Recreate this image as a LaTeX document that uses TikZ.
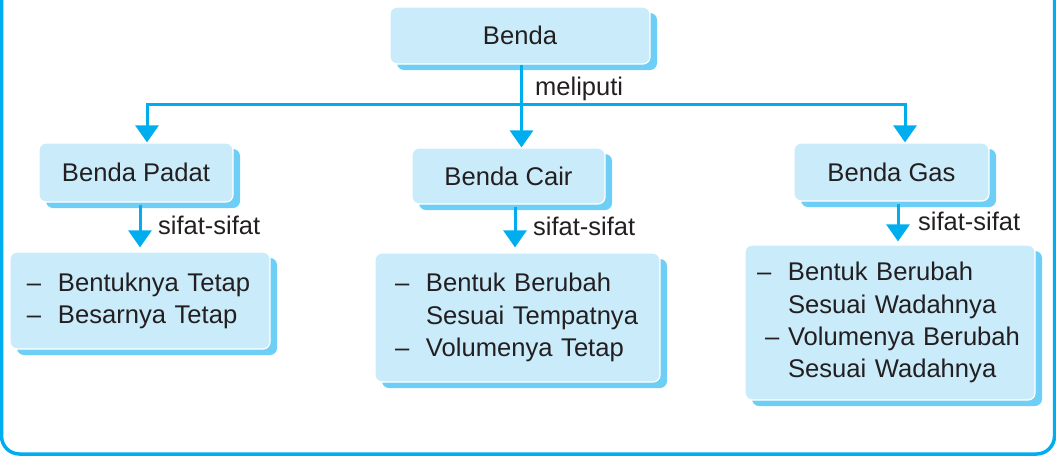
\documentclass[tikz,border=0pt]{standalone}
\usepackage{fontspec}
\setmainfont{Liberation Sans}
\usetikzlibrary{positioning,arrows.meta,shadows}

\definecolor{garis}{HTML}{00AEEF}
\definecolor{isi}{HTML}{C9EBFA}
\definecolor{bayang}{HTML}{6DCFF6}
\definecolor{teks}{HTML}{231F20}

\newcommand\butir[1]{\makebox[31pt][l]{--}#1}
\newcommand\lanjut[1]{\hspace*{31pt}#1}

\begin{document}
\begin{tikzpicture}[x=1pt,y=-1pt,
   every node/.style={text=teks},
   kotak/.style={rounded corners=7pt,fill=isi,draw=white,line width=1.2pt,
     drop shadow={shadow xshift=7pt,shadow yshift=-6pt,fill=bayang,opacity=1},
     font=\fontsize{25.6}{30}\selectfont},
   daftar/.style={kotak,align=left,font=\fontsize{25.6}{32.2}\selectfont},
   panah/.style={draw=garis,line width=3pt,-{Triangle[width=23pt,length=17pt]}},
   ket/.style={font=\fontsize{25.5}{28}\selectfont,anchor=base west,inner sep=0pt}]
  \useasboundingbox (0,0) rectangle (1056,456);
  % bingkai
  \draw[garis,line width=3.5pt,rounded corners=18pt]
    (1.5,-5) -- (1.5,454) -- (1054.5,454) -- (1054.5,-5);

  \node[kotak,minimum width=260pt,minimum height=57pt] (benda) at (520,35.5) {Benda};
  \node[kotak,minimum width=194pt,minimum height=59pt] (padat) at (136,172.5) {Benda Padat};
  \node[kotak,minimum width=193pt,minimum height=56pt] (cair) at (508.5,176) {Benda Cair};
  \node[kotak,minimum width=195pt,minimum height=58pt] (gas) at (891.5,172) {Benda Gas};

  \node[daftar,minimum width=260pt,minimum height=97pt,inner xsep=17pt,text width=226pt]
    (ciriPadat) at (140,300.5)
    {\butir{Bentuknya Tetap}\\ \butir{Besarnya Tetap}};
  \node[daftar,minimum width=285pt,minimum height=129pt,inner xsep=20pt,text width=245pt]
    (ciriCair) at (517.5,317.5)
    {\butir{Bentuk Berubah}\\ \lanjut{Sesuai Tempatnya}\\ \butir{Volumenya Tetap}};
  \node[daftar,minimum width=290pt,minimum height=155pt,inner xsep=12pt,text width=266pt]
    (ciriGas) at (890,322.5)
    {\butir{Bentuk Berubah}\\ \lanjut{Sesuai Wadahnya}\\
     \makebox[31pt][l]{\hspace{8pt}--}Volumenya Berubah\\ \lanjut{Sesuai Wadahnya}};

  % cabang
  \coordinate (cabang) at (521.5,104);
  \coordinate (kiri) at (147,104);
  \coordinate (kanan) at (905,104);
  \draw[garis,line width=3pt,line cap=rect] (kiri) -- (kanan);
  \draw[panah] (benda.south -| cabang) -- (cabang |- cair.north);
  \draw[panah] (kiri) -- (kiri |- padat.north);
  \draw[panah] (kanan) -- (kanan |- gas.north);
  \node[ket] (meliputi) at (535,95) {meliputi};

  % sifat-sifat
  \draw[panah,shorten <=2pt,shorten >=4pt] ([xshift=4pt]padat.south) -- ([xshift=4pt]padat.south |- ciriPadat.north);
  \draw[panah,shorten <=2pt,shorten >=5pt] ([xshift=6.5pt]cair.south) -- ([xshift=6.5pt]cair.south |- ciriCair.north);
  \draw[panah,shorten <=2pt,shorten >=3pt] ([xshift=6.5pt]gas.south) -- ([xshift=6.5pt]gas.south |- ciriGas.north);
  \node[ket] (sifatPadat) at (158,234) {sifat-sifat};
  \node[ket] (sifatCair) at (533,235.5) {sifat-sifat};
  \node[ket] (sifatGas) at (918,230.5) {sifat-sifat};
\end{tikzpicture}
\end{document}
